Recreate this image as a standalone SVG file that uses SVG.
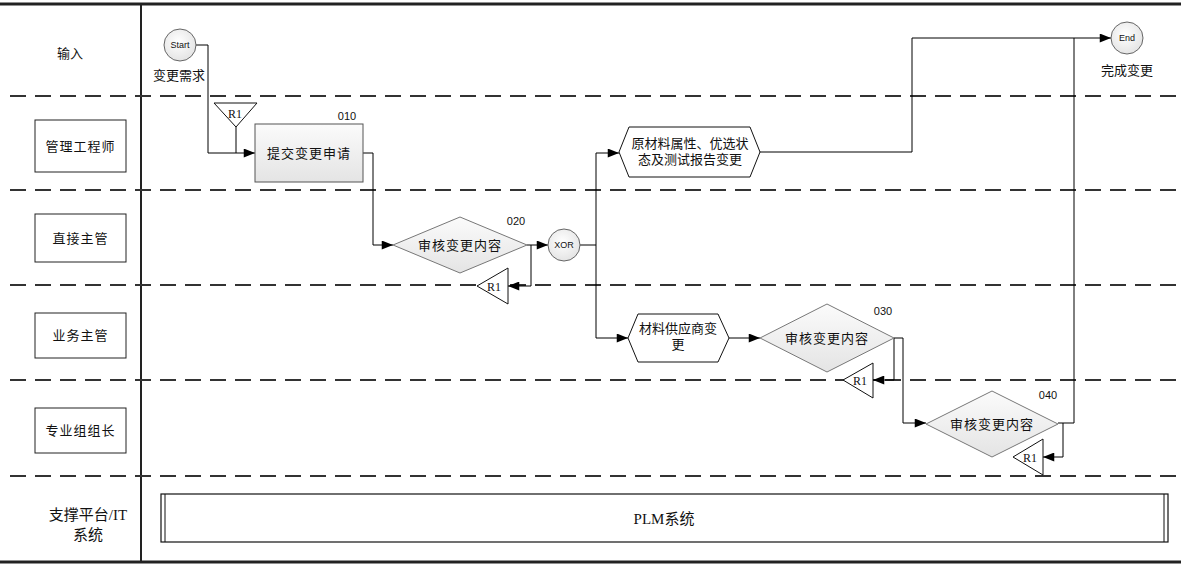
<svg xmlns="http://www.w3.org/2000/svg" width="1188" height="567" viewBox="0 0 1188 567">
  <defs>
    <style>
      .frame { stroke: #222; fill: none; }
      .lane { stroke: #333; stroke-width: 2; stroke-dasharray: 16 9; fill: none; }
      .lbl { font-family: "Noto Sans CJK SC", "Liberation Sans", sans-serif; font-size: 13px; fill: #111; text-anchor: middle; }
      .two { font-family: "Liberation Sans", "Noto Sans CJK SC", sans-serif; font-size: 13px; fill: #111; text-anchor: middle; }
      .serif { font-family: "Liberation Serif", "Noto Sans CJK SC", serif; fill: #111; text-anchor: middle; }
      .num { font-family: "Liberation Sans", sans-serif; font-size: 11px; fill: #111; text-anchor: middle; }
      .small { font-family: "Liberation Sans", sans-serif; font-size: 9px; fill: #111; text-anchor: middle; }
      .rolebox { fill: #fff; stroke: #222; stroke-width: 1; }
      .task { fill: url(#gFill); stroke: #555; stroke-width: 1; }
      .gate { fill: url(#gFill); stroke: #777; stroke-width: 1; }
      .hex { fill: #fff; stroke: #111; stroke-width: 1; }
      .ev { fill: url(#gCirc); stroke: #666; stroke-width: 1; }
      .tri { fill: #fff; stroke: #111; stroke-width: 1; }
      .conn { fill: none; stroke: #000; stroke-width: 1; }
    </style>
    <linearGradient id="gFill" x1="0" y1="0" x2="0" y2="1">
      <stop offset="0" stop-color="#fbfbfb"/>
      <stop offset="1" stop-color="#e4e4e4"/>
    </linearGradient>
    <radialGradient id="gCirc" cx="0.45" cy="0.4" r="0.65">
      <stop offset="0" stop-color="#ffffff"/>
      <stop offset="1" stop-color="#e2e2e2"/>
    </radialGradient>
    <marker id="arr" viewBox="0 0 10 8" refX="10" refY="4" markerWidth="12" markerHeight="9" markerUnits="userSpaceOnUse" orient="auto">
      <path d="M0,0 L10,4 L0,8 z" fill="#000"/>
    </marker>
  </defs>

  <rect x="0" y="0" width="1188" height="567" fill="#fff"/>

  <!-- outer frame and lane separators -->
  <g id="frame">
    <line class="frame" x1="0" y1="4" x2="1181" y2="4" stroke-width="3"/>
    <line class="frame" x1="0" y1="562" x2="1181" y2="562" stroke-width="3"/>
    <line class="frame" x1="141" y1="4" x2="141" y2="562" stroke-width="2"/>
    <line class="lane" x1="10" y1="96" x2="1180" y2="96"/>
    <line class="lane" x1="10" y1="190" x2="1180" y2="190"/>
    <line class="lane" x1="10" y1="285" x2="1180" y2="285"/>
    <line class="lane" x1="10" y1="380" x2="1180" y2="380"/>
    <line class="lane" x1="10" y1="476" x2="1180" y2="476"/>
  </g>

  <!-- lane titles -->
  <g id="lane-input"><text class="lbl" x="70" y="58" font-size="14">输入</text></g>
  <g id="lane-engineer">
    <rect class="rolebox" x="35" y="120" width="91" height="52"/>
    <text class="lbl" x="80.5" y="151" letter-spacing="1">管理工程师</text>
  </g>
  <g id="lane-supervisor">
    <rect class="rolebox" x="35" y="214" width="91" height="48"/>
    <text class="lbl" x="80.5" y="243" letter-spacing="1">直接主管</text>
  </g>
  <g id="lane-business">
    <rect class="rolebox" x="35" y="313" width="91" height="45"/>
    <text class="lbl" x="80.5" y="340" letter-spacing="1">业务主管</text>
  </g>
  <g id="lane-leader">
    <rect class="rolebox" x="35" y="408" width="91" height="45"/>
    <text class="lbl" x="80.5" y="435" letter-spacing="1">专业组组长</text>
  </g>
  <g id="lane-platform">
    <text class="serif" x="88" y="520" font-size="15" fill="#333">支撑平台/IT<tspan x="88" dy="20">系统</tspan></text>
  </g>

  <!-- connectors -->
  <g id="connectors">
    <path class="conn" d="M196,45 H208 V153 H255" marker-end="url(#arr)"/>
    <path class="conn" d="M236,127 V153"/>
    <path class="conn" d="M363,153 H373 V245 H393" marker-end="url(#arr)"/>
    <path class="conn" d="M527,245 H548" marker-end="url(#arr)"/>
    <path class="conn" d="M531,245 V286 H508" marker-end="url(#arr)"/>
    <path class="conn" d="M580,245 H596 V153 H619" marker-end="url(#arr)"/>
    <path class="conn" d="M596,245 V338 H628" marker-end="url(#arr)"/>
    <path class="conn" d="M760,152 H912 V38 H1111" marker-end="url(#arr)"/>
    <path class="conn" d="M729,338 H760" marker-end="url(#arr)"/>
    <path class="conn" d="M894,338 V380 H873" marker-end="url(#arr)"/>
    <path class="conn" d="M894,338 H903 V423 H926" marker-end="url(#arr)"/>
    <path class="conn" d="M1058,423 H1074 V38"/>
    <path class="conn" d="M1063,423 V457 H1043" marker-end="url(#arr)"/>
  </g>

  <!-- start event -->
  <g id="start">
    <circle class="ev" cx="180" cy="45" r="16"/>
    <text class="small" x="180" y="48">Start</text>
    <text class="lbl" x="179" y="80" font-size="12">变更需求</text>
  </g>

  <!-- rework reference markers -->
  <g id="r1-a">
    <polygon class="tri" points="214,103 257,103 236,127"/>
    <text class="serif" x="235" y="118" font-size="12">R1</text>
  </g>

  <!-- step 010 -->
  <g id="task-010">
    <rect class="task" x="255" y="124" width="108" height="58"/>
    <text class="num" x="347" y="120">010</text>
    <text class="lbl" x="309" y="158" letter-spacing="1">提交变更申请</text>
  </g>

  <!-- step 020 -->
  <g id="review-020">
    <polygon class="gate" points="393,245 460,217 527,245 460,273"/>
    <text class="num" x="516" y="225">020</text>
    <text class="lbl" x="460" y="250" letter-spacing="1">审核变更内容</text>
  </g>
  <g id="r1-b">
    <polygon class="tri" points="477,286 508,268 508,304"/>
    <text class="serif" x="494" y="291" font-size="12">R1</text>
  </g>

  <!-- exclusive gateway -->
  <g id="xor">
    <circle class="ev" cx="564" cy="245" r="16"/>
    <text class="small" x="564" y="248">XOR</text>
  </g>

  <!-- material attribute change -->
  <g id="attr-change">
    <polygon class="hex" points="619,152 629,127 750,127 760,152 750,177 629,177"/>
    <text class="two" x="690" y="148">原材料属性、优选状</text>
    <text class="two" x="690" y="164">态及测试报告变更</text>
  </g>

  <!-- supplier change -->
  <g id="supplier-change">
    <polygon class="hex" points="628,338 638,314 718,314 729,338 718,362 638,362"/>
    <text class="two" x="678" y="333">材料供应商变</text>
    <text class="two" x="678" y="349">更</text>
  </g>

  <!-- step 030 -->
  <g id="review-030">
    <polygon class="gate" points="760,338 827,304 894,338 827,372"/>
    <text class="num" x="883" y="315">030</text>
    <text class="lbl" x="827" y="343" letter-spacing="1">审核变更内容</text>
  </g>
  <g id="r1-c">
    <polygon class="tri" points="843,380 873,363 873,398"/>
    <text class="serif" x="860" y="385" font-size="12">R1</text>
  </g>

  <!-- step 040 -->
  <g id="review-040">
    <polygon class="gate" points="926,424 992,391 1058,424 992,457"/>
    <text class="num" x="1048" y="399">040</text>
    <text class="lbl" x="992" y="429" letter-spacing="1">审核变更内容</text>
  </g>
  <g id="r1-d">
    <polygon class="tri" points="1013,457 1043,439 1043,475"/>
    <text class="serif" x="1030" y="462" font-size="12">R1</text>
  </g>

  <!-- end event -->
  <g id="end">
    <circle class="ev" cx="1127" cy="38" r="16"/>
    <text class="small" x="1127" y="41">End</text>
    <text class="lbl" x="1127" y="75" font-size="12">完成变更</text>
  </g>

  <!-- supporting system -->
  <g id="plm">
    <rect x="161" y="494" width="1007" height="48" fill="#fff" stroke="#111" stroke-width="1.2"/>
    <line x1="165" y1="494" x2="165" y2="542" stroke="#111" stroke-width="1"/>
    <line x1="1164" y1="494" x2="1164" y2="542" stroke="#111" stroke-width="1"/>
    <text class="serif" x="664" y="524" font-size="15">PLM系统</text>
  </g>
</svg>
